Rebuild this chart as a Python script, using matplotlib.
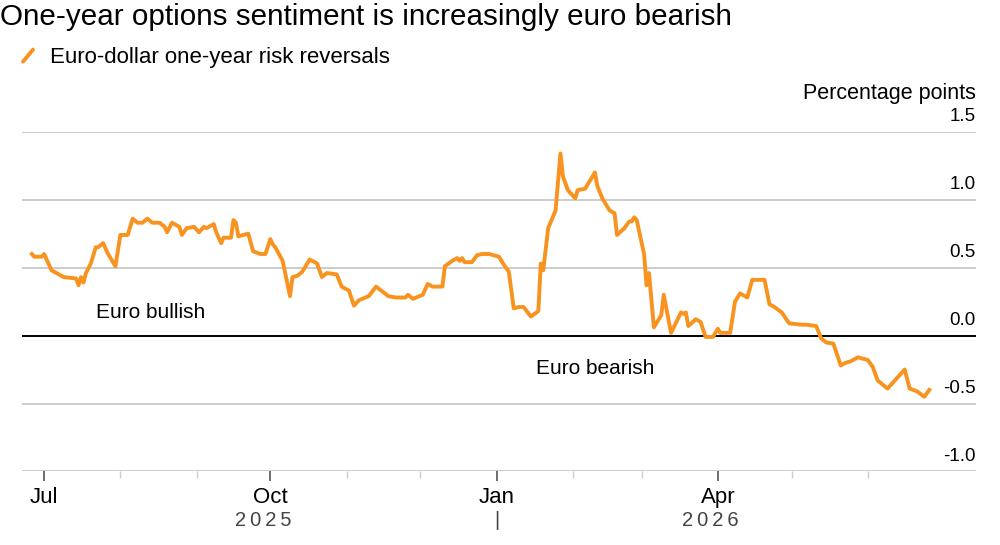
import pandas as pd
import matplotlib
matplotlib.use("Agg")
import matplotlib.pyplot as plt
import matplotlib.transforms as mtransforms

plt.rcParams['font.family'] = ['Liberation Sans', 'DejaVu Sans']

# data (euro-dollar one-year risk reversals, percentage points)
dates = [
    "2025-06-26", "2025-06-27", "2025-06-30", "2025-07-01", "2025-07-03", "2025-07-04",
    "2025-07-06", "2025-07-09", "2025-07-14", "2025-07-15", "2025-07-16", "2025-07-17",
    "2025-07-18", "2025-07-20", "2025-07-22", "2025-07-23", "2025-07-25", "2025-07-27",
    "2025-07-30", "2025-08-01", "2025-08-04", "2025-08-06", "2025-08-08", "2025-08-10",
    "2025-08-12", "2025-08-14", "2025-08-17", "2025-08-19", "2025-08-20", "2025-08-22",
    "2025-08-24", "2025-08-25", "2025-08-26", "2025-08-28", "2025-08-31", "2025-09-02",
    "2025-09-04", "2025-09-05", "2025-09-08", "2025-09-09", "2025-09-11", "2025-09-12",
    "2025-09-15", "2025-09-16", "2025-09-17", "2025-09-18", "2025-09-22", "2025-09-24",
    "2025-09-27", "2025-09-29", "2025-10-01", "2025-10-02", "2025-10-03", "2025-10-06",
    "2025-10-09", "2025-10-10", "2025-10-12", "2025-10-14", "2025-10-17", "2025-10-20",
    "2025-10-22", "2025-10-24", "2025-10-28", "2025-10-30", "2025-11-02", "2025-11-04",
    "2025-11-06", "2025-11-10", "2025-11-13", "2025-11-18", "2025-11-21", "2025-11-25",
    "2025-11-26", "2025-11-28", "2025-12-02", "2025-12-04", "2025-12-06", "2025-12-10",
    "2025-12-11", "2025-12-14", "2025-12-16", "2025-12-17", "2025-12-18", "2025-12-19",
    "2025-12-22", "2025-12-24", "2025-12-26", "2025-12-29", "2025-12-31", "2026-01-02",
    "2026-01-04", "2026-01-06", "2026-01-08", "2026-01-10", "2026-01-12", "2026-01-15",
    "2026-01-18", "2026-01-19", "2026-01-20", "2026-01-22", "2026-01-25", "2026-01-27",
    "2026-01-28", "2026-01-30", "2026-02-02", "2026-02-03", "2026-02-06", "2026-02-10",
    "2026-02-11", "2026-02-13", "2026-02-16", "2026-02-18", "2026-02-19", "2026-02-22",
    "2026-02-24", "2026-02-25", "2026-02-26", "2026-02-27", "2026-03-02", "2026-03-03",
    "2026-03-04", "2026-03-06", "2026-03-09", "2026-03-10", "2026-03-12", "2026-03-13",
    "2026-03-17", "2026-03-18", "2026-03-19", "2026-03-20", "2026-03-23", "2026-03-25",
    "2026-03-27", "2026-03-30", "2026-04-01", "2026-04-02", "2026-04-06", "2026-04-08",
    "2026-04-10", "2026-04-13", "2026-04-15", "2026-04-20", "2026-04-22", "2026-04-24",
    "2026-04-27", "2026-04-30", "2026-05-05", "2026-05-07", "2026-05-11", "2026-05-13",
    "2026-05-15", "2026-05-18", "2026-05-21", "2026-05-23", "2026-05-25", "2026-05-28",
    "2026-06-01", "2026-06-03", "2026-06-05", "2026-06-09", "2026-06-11", "2026-06-16",
    "2026-06-18", "2026-06-21", "2026-06-24", "2026-06-26",
]
values = [
    0.60, 0.58, 0.58, 0.60, 0.52, 0.48,
    0.46, 0.43, 0.42, 0.37, 0.43, 0.39,
    0.46, 0.53, 0.65, 0.65, 0.68, 0.60,
    0.51, 0.74, 0.74, 0.86, 0.83, 0.83,
    0.86, 0.83, 0.83, 0.80, 0.76, 0.83,
    0.81, 0.80, 0.74, 0.79, 0.80, 0.76,
    0.80, 0.79, 0.82, 0.76, 0.68, 0.72,
    0.72, 0.85, 0.83, 0.73, 0.75, 0.62,
    0.60, 0.60, 0.71, 0.67, 0.65, 0.55,
    0.29, 0.43, 0.44, 0.47, 0.56, 0.53,
    0.43, 0.46, 0.45, 0.36, 0.33, 0.22,
    0.26, 0.29, 0.36, 0.29, 0.28, 0.28,
    0.30, 0.27, 0.30, 0.38, 0.36, 0.36,
    0.51, 0.55, 0.57, 0.55, 0.57, 0.54,
    0.54, 0.59, 0.60, 0.60, 0.59, 0.58,
    0.52, 0.47, 0.20, 0.21, 0.21, 0.14,
    0.18, 0.53, 0.48, 0.79, 0.92, 1.34,
    1.17, 1.07, 1.01, 1.07, 1.08, 1.20,
    1.10, 1.01, 0.92, 0.90, 0.74, 0.79,
    0.84, 0.84, 0.87, 0.85, 0.60, 0.37,
    0.46, 0.06, 0.15, 0.30, 0.11, 0.02,
    0.17, 0.16, 0.17, 0.07, 0.12, 0.10,
    -0.01, -0.01, 0.05, 0.02, 0.02, 0.25,
    0.31, 0.28, 0.41, 0.41, 0.23, 0.21,
    0.17, 0.09, 0.08, 0.08, 0.07, -0.02,
    -0.05, -0.06, -0.22, -0.20, -0.19, -0.16,
    -0.18, -0.23, -0.33, -0.39, -0.35, -0.25,
    -0.39, -0.41, -0.45, -0.40,
]
y_ticks = [-1.0, -0.5, 0.0, 0.5, 1.0, 1.5]
month_ticks = ["2025-07-01", "2025-10-01", "2026-01-01", "2026-04-01"]
month_labels = ["Jul", "Oct", "Jan", "Apr"]
minor_ticks = ["2025-08-01", "2025-09-01", "2025-11-01", "2025-12-01",
               "2026-02-01", "2026-03-01", "2026-05-01", "2026-06-01"]

x = pd.to_datetime(dates)
orange = "#f7931e"

fig = plt.figure(figsize=(10, 5.45), dpi=100)
ax = fig.add_axes([0.022, 0.1349, 0.954, 0.6235])

ax.plot(x, values, color=orange, lw=2.8, solid_joinstyle="round", zorder=3, clip_on=False)

ax.set_xlim(pd.Timestamp("2025-06-22"), pd.Timestamp("2026-07-15"))
ax.set_ylim(-1.0, 1.5)

# gridlines and zero line
for v in y_ticks:
    if v == 0:
        ax.axhline(v, color="black", lw=1.4, zorder=2)
    else:
        ax.axhline(v, color="#cccccc", lw=1.4, zorder=1)

for s in ["top", "right", "left", "bottom"]:
    ax.spines[s].set_visible(False)

ax.set_yticks([])
ax.set_xticks(pd.to_datetime(month_ticks))
ax.set_xticklabels(month_labels, fontsize=16)
ax.set_xticks(pd.to_datetime(minor_ticks), minor=True)
ax.tick_params(axis="x", which="major", length=7, width=1.2, color="#555555", pad=4)
ax.tick_params(axis="x", which="minor", length=5, width=1, color="#cccccc")

# y labels sitting above the gridlines, on the right
trans = mtransforms.blended_transform_factory(ax.transAxes, ax.transData)
off = mtransforms.offset_copy(trans, fig=fig, x=0, y=5, units="points")
for v in y_ticks:
    ax.text(1.0, v, f"{v:.1f}", transform=off, ha="right", va="bottom", fontsize=13.5)
ax.text(1.0, 1.5, "Percentage points",
        transform=mtransforms.offset_copy(trans, fig=fig, x=0, y=20, units="points"),
        ha="right", va="bottom", fontsize=15.5)

# year labels
tb = mtransforms.blended_transform_factory(ax.transData, ax.transAxes)
ty = -0.144
ax.text(pd.Timestamp("2025-09-28"), ty, "2\u20090\u20092\u20095", transform=tb, ha="center",
        va="center", fontsize=14.5, color="#444444")
ax.text(pd.Timestamp("2026-01-01"), ty, "|", transform=tb, ha="center", va="center",
        fontsize=14.5, color="#444444")
ax.text(pd.Timestamp("2026-03-29"), ty, "2\u20090\u20092\u20096", transform=tb, ha="center",
        va="center", fontsize=14.5, color="#444444")

# annotations
ax.text(pd.Timestamp("2025-07-22"), 0.17, "Euro bullish", fontsize=15, va="center", ha="left")
ax.text(pd.Timestamp("2026-01-17"), -0.245, "Euro bearish", fontsize=15, va="center", ha="left")

# title and legend
fig.text(0.0, 0.968, "One-year options sentiment is increasingly euro bearish", fontsize=21.3,
         ha="left", va="center")
fig.add_artist(plt.Line2D([0.023, 0.033], [0.887, 0.909], color=orange, lw=2.8,
                          solid_capstyle="round"))
fig.text(0.05, 0.895, "Euro-dollar one-year risk reversals", fontsize=16, ha="left", va="center")

fig.savefig("out.png", dpi=100, facecolor="white")
